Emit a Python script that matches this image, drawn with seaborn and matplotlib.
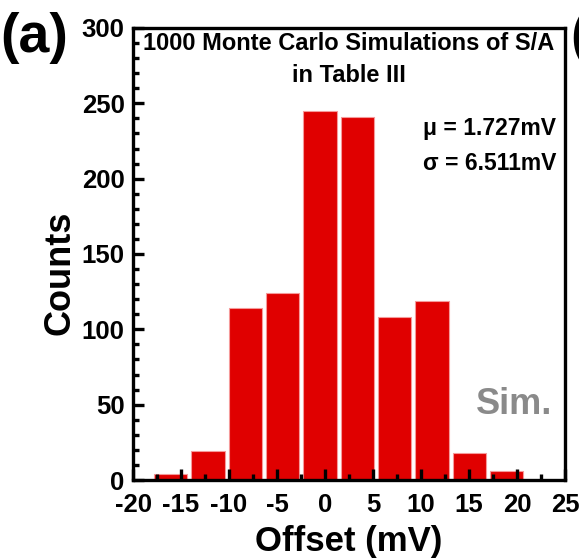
import numpy as np
import pandas as pd
import matplotlib
matplotlib.use("Agg")
import matplotlib.pyplot as plt
from matplotlib.ticker import MultipleLocator
import seaborn as sns

# ---- data ----
bin_centers = [-16.06, -12.18, -8.29, -4.40, -0.52, 3.37, 7.25, 11.14, 15.03, 18.92]
counts = [4, 19, 114, 124, 245, 241, 108, 119, 18, 6]
bin_width = 3.886
x_ticks = [-20, -15, -10, -5, 0, 5, 10, 15, 20, 25]
y_ticks = [0, 50, 100, 150, 200, 250, 300]
title_lines = ["1000 Monte Carlo Simulations of S/A", "in Table III"]
stats_lines = ["\u03bc = 1.727mV", "\u03c3 = 6.511mV"]

sns.set_style("ticks")
plt.rcParams["font.family"] = ["Liberation Sans", "DejaVu Sans"]
plt.rcParams["font.weight"] = "bold"
plt.rcParams["text.color"] = "black"
plt.rcParams["axes.labelcolor"] = "black"
plt.rcParams["xtick.color"] = "black"
plt.rcParams["ytick.color"] = "black"
plt.rcParams["axes.unicode_minus"] = False

df = pd.DataFrame({"offset": bin_centers, "count": counts})
edges = [c - bin_width / 2 for c in bin_centers] + [bin_centers[-1] + bin_width / 2]

fig = plt.figure(figsize=(5.79, 5.59), dpi=100)
ax = fig.add_axes([133 / 579, 1 - 480 / 559, (565 - 133) / 579, (480 - 28) / 559])

sns.histplot(data=df, x="offset", weights="count", bins=edges, shrink=0.89,
             color="#e00000", edgecolor="#f59a9a", linewidth=0.8, alpha=1.0, ax=ax)
ax.set_axisbelow(False)

ax.set_xlim(-20, 24.9)
ax.set_ylim(0, 300)
ax.set_xticks(x_ticks)
ax.set_yticks(y_ticks)
ax.xaxis.set_minor_locator(MultipleLocator(2.5))
ax.yaxis.set_minor_locator(MultipleLocator(10))
ax.tick_params(which="major", direction="in", length=8, width=2.4, labelsize=18.5, pad=6,
               top=False, right=False)
ax.tick_params(which="minor", direction="in", length=4.5, width=2.4, top=False, right=False)
ax.tick_params(axis="x", which="major", pad=9.5)
for lab in ax.get_xticklabels() + ax.get_yticklabels():
    lab.set_fontweight("bold")
for s in ax.spines.values():
    s.set_linewidth(2.4)
    s.set_visible(True)
    s.set_color("black")

ax.set_xlabel("Offset (mV)", fontsize=25, fontweight="bold", labelpad=0)
ax.set_ylabel("Counts", fontsize=26, fontweight="bold")
ax.yaxis.set_label_coords(-(133 - 60) / 432, 1 - (273 - 28) / 452)
ax.xaxis.set_label_coords(0.5, -(541 - 480) / 452)
ax.xaxis.label.set_va("center")
ax.yaxis.label.set_va("center")

# texts
ax.text(0.5, 1 - (44 - 28) / 452, title_lines[0], transform=ax.transAxes, ha="center", va="center",
        fontsize=17, fontweight="bold")
ax.text(0.5, 1 - (75 - 28) / 452, title_lines[1], transform=ax.transAxes, ha="center", va="center",
        fontsize=17, fontweight="bold")
ax.text((556 - 133) / 432, 1 - (129 - 28) / 452, stats_lines[0], transform=ax.transAxes,
        ha="right", va="center", fontsize=16.5, fontweight="bold")
ax.text((556 - 133) / 432, 1 - (163 - 28) / 452, stats_lines[1], transform=ax.transAxes,
        ha="right", va="center", fontsize=16.5, fontweight="bold")
ax.text((552 - 133) / 432, 1 - (405 - 28) / 452, "Sim.", transform=ax.transAxes,
        ha="right", va="center", fontsize=26, fontweight="bold", color="#8a8a8a")

fig.text(0 / 579, 1 - 38 / 559, "(a)", ha="left", va="center", fontsize=40, fontweight="bold")
fig.text(570 / 579, 1 - 38 / 559, "(", ha="left", va="center", fontsize=40, fontweight="bold")

fig.savefig("out.png", dpi=100)
